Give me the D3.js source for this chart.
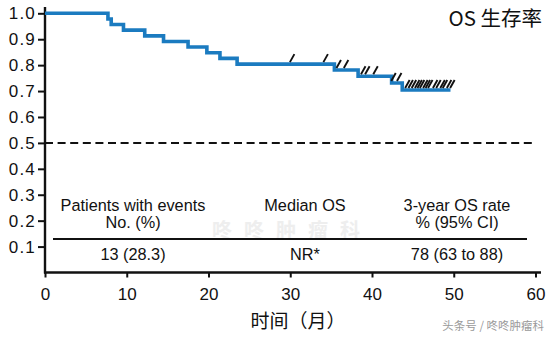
<!DOCTYPE html>
<html><head><meta charset="utf-8">
<script src="https://cdn.jsdelivr.net/npm/d3@7"></script>
<style>body{margin:0;background:#fff;}svg{display:block;}</style>
</head><body>
<script>
// ---- data ----
const stepTimes = [0, 7.7, 8.1, 9.6, 12.2, 14.5, 17.5, 19.8, 21.4, 23.5, 35.4, 38.3, 42.4, 43.7];
const survival  = [1.0, 0.978, 0.957, 0.935, 0.913, 0.891, 0.870, 0.848, 0.826, 0.804, 0.781, 0.757, 0.731, 0.704];
const lastFollowUp = 49.6;
const censorTimes = [30.2, 34.3, 35.9, 36.8, 38.9, 39.4, 40.4, 42.6, 43.3,
  44.3, 44.7, 45.1, 45.5, 45.8, 46.1, 46.5, 46.8, 47.1, 47.7, 48.1, 48.6, 48.9, 49.4, 49.8];
const xTicks = [0, 10, 20, 30, 40, 50, 60];
const yTicks = [0.1, 0.2, 0.3, 0.4, 0.5, 0.6, 0.7, 0.8, 0.9, 1.0];
const medianLine = 0.5;
const tableHeaders = [["Patients with events", "No. (%)"], ["Median OS", ""], ["3-year OS rate", "% (95% CI)"]];
const tableValues = ["13 (28.3)", "NR*", "78 (63 to 88)"];
const titleText = "OS 生存率";
const xTitle = "时间（月）";

// ---- layout ----
const W = 551, H = 337;
const svg = d3.select("body").append("svg").attr("width", W).attr("height", H);
const x = d3.scaleLinear().domain([0, 60]).range([45, 535.5]);
const y = d3.scaleLinear().domain([0, 1]).range([272.5, 13.3]);
const font = "'Liberation Sans', Arial, sans-serif";
const cjk = "'Noto Sans CJK SC', sans-serif";

// faint watermark
svg.append("text").attr("x", 292).attr("y", 238).attr("text-anchor", "middle")
  .attr("font-family", cjk).attr("font-size", 20).attr("font-weight", 700).attr("letter-spacing", 12)
  .attr("fill", "#eeeeee").text("咚咚肿瘤科");

// dashed 0.5 line
svg.append("line").attr("x1", x(0)).attr("x2", x(60)).attr("y1", y(medianLine)).attr("y2", y(medianLine))
  .attr("stroke", "#111").attr("stroke-width", 2).attr("stroke-dasharray", "8,4.6");

// axes
const yAxis = d3.axisLeft(y).tickValues(yTicks).tickFormat(d3.format(".1f")).tickSize(7).tickPadding(2);
const gy = svg.append("g").attr("transform", `translate(${x(0)},0)`).call(yAxis);
gy.select(".domain").remove();
gy.selectAll("line").attr("stroke", "#111").attr("stroke-width", 2);
gy.selectAll("text").attr("font-family", font).attr("font-size", 17).attr("fill", "#111")
  .attr("letter-spacing", 1.2);

const xAxis = d3.axisBottom(x).tickValues(xTicks).tickFormat(d3.format("d")).tickSize(5).tickPadding(10);
const gx = svg.append("g").attr("transform", `translate(0,${y(0)})`).call(xAxis);
gx.select(".domain").remove();
gx.selectAll("line").attr("stroke", "#111").attr("stroke-width", 2);
gx.selectAll("text").attr("font-family", font).attr("font-size", 17).attr("fill", "#111");

svg.append("line").attr("x1", x(0)).attr("x2", x(0)).attr("y1", 7).attr("y2", y(0) + 1)
  .attr("stroke", "#111").attr("stroke-width", 2.4);
svg.append("line").attr("x1", x(0) - 1).attr("x2", 541).attr("y1", y(0)).attr("y2", y(0))
  .attr("stroke", "#111").attr("stroke-width", 2.4);

// KM curve
const pts = stepTimes.map((t, i) => [t, survival[i]]);
pts.push([lastFollowUp, survival[survival.length - 1]]);
const line = d3.line().x(d => x(d[0])).y(d => y(d[1])).curve(d3.curveStepAfter);
svg.append("path").attr("d", line(pts)).attr("fill", "none")
  .attr("stroke", "#1b7bc0").attr("stroke-width", 3.6);

// censor marks
function survAt(t) {
  let s = survival[0];
  for (let i = 0; i < stepTimes.length; i++) if (stepTimes[i] <= t) s = survival[i];
  return s;
}
svg.append("g").selectAll("line").data(censorTimes).join("line")
  .attr("x1", d => x(d) - 2).attr("y1", d => y(survAt(d)) - 2)
  .attr("x2", d => x(d) + 2.5).attr("y2", d => y(survAt(d)) - 10)
  .attr("stroke", "#111").attr("stroke-width", 1.9);

// title
svg.append("text").attr("x", 542).attr("y", 26).attr("text-anchor", "end")
  .attr("font-family", cjk).attr("font-size", 20.5).attr("fill", "#111").text(titleText);

// table
const colX = [133, 305, 457];
tableHeaders.forEach((h, i) => {
  svg.append("text").attr("x", colX[i]).attr("y", 211).attr("text-anchor", "middle")
    .attr("font-family", font).attr("font-size", 16.3).attr("fill", "#111").text(h[0]);
  if (h[1]) svg.append("text").attr("x", colX[i]).attr("y", 228).attr("text-anchor", "middle")
    .attr("font-family", font).attr("font-size", 16.3).attr("fill", "#111").text(h[1]);
});
svg.append("line").attr("x1", 53).attr("x2", 527).attr("y1", 239).attr("y2", 239)
  .attr("stroke", "#111").attr("stroke-width", 2);
tableValues.forEach((v, i) => {
  svg.append("text").attr("x", colX[i]).attr("y", 260).attr("text-anchor", "middle")
    .attr("font-family", font).attr("font-size", 16.3).attr("fill", "#111").text(v);
});

// x title
svg.append("text").attr("x", 298).attr("y", 328).attr("text-anchor", "middle")
  .attr("font-family", cjk).attr("font-size", 19).attr("fill", "#111").text(xTitle);

// source watermark
svg.append("text").attr("x", 544).attr("y", 330).attr("text-anchor", "end")
  .attr("font-family", cjk).attr("font-size", 11.5).attr("fill", "#9a9a9a").text("头条号 / 咚咚肿瘤科");
</script>
</body></html>
